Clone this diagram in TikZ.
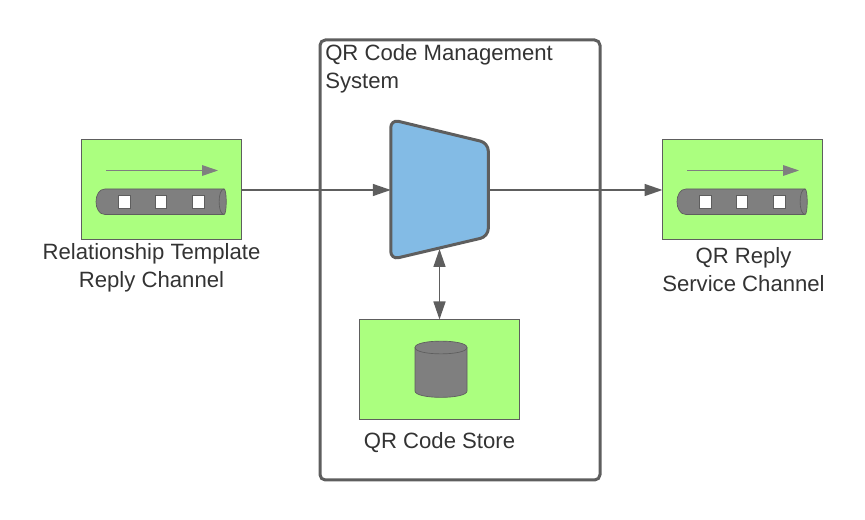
\documentclass[tikz,border=0pt]{standalone}
\usepackage{fontspec}
\setmainfont{Liberation Sans}
\usetikzlibrary{arrows.meta}
\definecolor{edgegray}{HTML}{5E5E5E}
\definecolor{shapegray}{HTML}{7F7F7F}
\definecolor{boxgreen}{HTML}{ABFF7F}
\definecolor{muxblue}{HTML}{83BBE5}
\definecolor{textgray}{HTML}{333333}
\tikzset{
  x=0.75pt,y=-0.75pt,
  greenbox/.style={draw=edgegray,fill=boxgreen,line width=0.75pt,minimum width=120pt,minimum height=75pt,inner sep=0pt,outer sep=0pt},
  conn/.style={draw=edgegray,line width=1.15pt,-{Triangle[length=13.5pt,width=9pt,fill=edgegray]}},
  biconn/.style={draw=edgegray,line width=1.15pt,{Triangle[length=13.5pt,width=9pt,fill=edgegray]}-{Triangle[length=13.5pt,width=9pt,fill=edgegray]}},
  flow/.style={draw=shapegray,line width=0.75pt,-{Triangle[length=12pt,width=8pt,fill=shapegray]}},
  label/.style={text=textgray,font=\fontsize{16.6}{21}\selectfont,align=center,inner sep=0pt},
  gshape/.style={draw=edgegray,fill=shapegray,line width=0.5pt},
  slot/.style={draw=edgegray,fill=white,line width=0.5pt}
}
\newcommand{\channel}[1]{%
  \begin{scope}[shift={(#1,0)}]
    \draw[flow] (25,170.5) -- (137,170.5);
    \draw[gshape] (143,189) -- (24,189) .. controls (12,189) and (12,214.5) .. (24,214.5) -- (143,214.5) -- cycle;
    \draw[gshape] (143,189) .. controls (136.5,189) and (136.5,214.5) .. (143,214.5) .. controls (146,214.5) and (146,189) .. (143,189) -- cycle;
    \draw[slot] (37.3,195.5) rectangle (49.7,208.5);
    \draw[slot] (74,195.5) rectangle (85.7,208.5);
    \draw[slot] (111,195.5) rectangle (123.7,208.5);
  \end{scope}}
\begin{document}
\begin{tikzpicture}
\useasboundingbox (0,0) rectangle (865,520);
\draw[edgegray,line width=2.25pt,rounded corners=4pt] (320,40) rectangle (600,480);
\node[label,anchor=north west,align=left] (systitle) at (325,44.5) {QR Code Management\\System};
\node[greenbox] (tmpl) at (161.5,189.5) {};
\node[greenbox] (reply) at (742.5,189.5) {};
\node[greenbox] (store) at (439.5,369.5) {};
\channel{81}
\channel{662}
% message translator shape
\draw[draw=edgegray,fill=muxblue,line width=2.25pt,rounded corners=6pt] (390.8,119.5) -- (488.3,143) -- (488.3,236.5) -- (390.8,259.5) -- cycle;
\node[minimum width=73.1pt,minimum height=105pt,inner sep=0pt,outer sep=0pt] (mux) at (439.5,190) {};
\coordinate (muxb) at (439.5,249);
% cylinder
\draw[gshape] (415,347.5) -- (415,391) .. controls (415,399.5) and (467,399.5) .. (467,391) -- (467,347.5) .. controls (467,339) and (415,339) .. (415,347.5) -- cycle;
\draw[edgegray,line width=0.5pt] (415,347.5) .. controls (415,356) and (467,356) .. (467,347.5);
% connectors
\draw[conn] (tmpl.east |- mux.west) -- (mux.west);
\draw[conn] (mux.east) -- (mux.east -| reply.west);
\draw[biconn] (muxb) -- (store.north);
% labels
\node[label] (tmpllabel) at (151.5,267.5) {Relationship Template\\Reply Channel};
\node[label] (replylabel) at (743.5,270) {QR Reply\\Service Channel};
\node[label] (storelabel) at (439.5,442.5) {QR Code Store};
\end{tikzpicture}
\end{document}
